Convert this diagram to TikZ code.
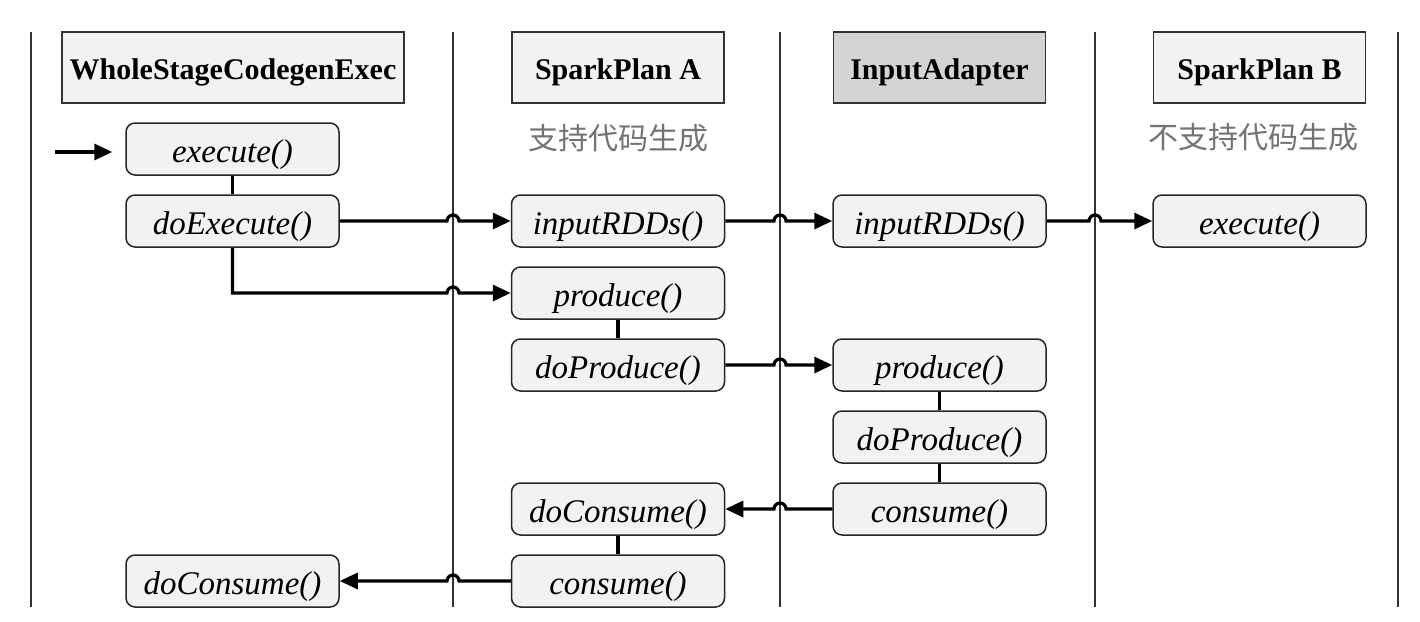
\documentclass[tikz,border=0pt]{standalone}
\usepackage{fontspec}
\setmainfont{Liberation Serif}
\newfontfamily\cjk{Noto Sans CJK SC}
\usetikzlibrary{arrows.meta,calc}
\begin{document}
\begin{tikzpicture}[x=1pt,y=-1pt,
 lane/.style={line width=2.8pt, draw=black!80},
 hdr/.style={draw=black!80, line width=1.5pt, fill=black!5, minimum height=71pt, minimum width=212pt, inner sep=0pt, text height=27pt, text depth=4pt, font=\fontsize{30}{34}\selectfont\bfseries},
 meth/.style={draw=black!85, line width=1.5pt, fill=black!5, rounded corners=9pt, minimum width=213pt, minimum height=52pt, inner sep=0pt, text height=30pt, text depth=4pt, font=\fontsize{33}{36}\selectfont\itshape},
 flow/.style={line width=3.2pt, -{Triangle[length=18pt,width=16pt]}},
 link/.style={line width=3.2pt},
 note/.style={text=black!55, font=\cjk\fontsize{30}{34}\selectfont}]
\useasboundingbox (0,0) rectangle (1420,621);
% lanes
\coordinate (L1) at (31,0);
\coordinate (L2) at (453,0);
\coordinate (L3) at (780,0);
\coordinate (L4) at (1095,0);
\coordinate (L5) at (1398,0);
\foreach \x in {31,453,780,1095,1398} \draw[lane] (\x,32) -- (\x,607);
% headers
\node[hdr, minimum width=342pt] (hW) at (233,67.5) {WholeStageCodegenExec};
\node[hdr] (hA) at (618,67.5) {SparkPlan A};
\node[hdr, fill=black!17] (hI) at (939.5,67.5) {InputAdapter};
\node[hdr] (hB) at (1259.5,67.5) {SparkPlan B};
\node[note] (cnA) at (618,138) {支持代码生成};
\node[note] (cnB) at (1253,137) {不支持代码生成};
% column 1
\node[meth] (wExec) at (232.5,149) {execute()};
\node[meth] (wDoExec) at (232.5,221) {doExecute()};
\node[meth] (wDoCons) at (232.5,581) {doConsume()};
% column 2
\node[meth] (aIn) at (618,221) {inputRDDs()};
\node[meth] (aProd) at (618,293) {produce()};
\node[meth] (aDoProd) at (618,365) {doProduce()};
\node[meth] (aDoCons) at (618,509) {doConsume()};
\node[meth] (aCons) at (618,581) {consume()};
% column 3
\node[meth] (iIn) at (939.5,221) {inputRDDs()};
\node[meth] (iProd) at (939.5,365) {produce()};
\node[meth] (iDoProd) at (939.5,437) {doProduce()};
\node[meth] (iCons) at (939.5,509) {consume()};
% column 4
\node[meth] (bExec) at (1259.5,221) {execute()};
% entry
\coordinate (entry) at (55,152);
\draw[flow] (entry) -- ([xshift=-13pt]wExec.west |- entry);
% vertical links
\draw[link] (wExec) -- (wDoExec);
\draw[link] (aProd) -- (aDoProd);
\draw[link] (aDoCons) -- (aCons);
\draw[link] (iProd) -- (iDoProd);
\draw[link] (iDoProd) -- (iCons);
% flows with jumps
\draw[flow] (wDoExec.east) -- ([xshift=-6pt]wDoExec.east -| L2) arc[start angle=180,end angle=0,radius=6pt] -- (aIn.west);
\draw[flow] (wDoExec.south) -- (wDoExec.south |- aProd.west) -- ([xshift=-6pt]aProd.west -| L2) arc[start angle=180,end angle=0,radius=6pt] -- (aProd.west);
\draw[flow] (aIn.east) -- ([xshift=-6pt]aIn.east -| L3) arc[start angle=180,end angle=0,radius=6pt] -- (iIn.west);
\draw[flow] (iIn.east) -- ([xshift=-6pt]iIn.east -| L4) arc[start angle=180,end angle=0,radius=6pt] -- (bExec.west);
\draw[flow] (aDoProd.east) -- ([xshift=-6pt]aDoProd.east -| L3) arc[start angle=180,end angle=0,radius=6pt] -- (iProd.west);
\draw[flow] (iCons.west) -- ([xshift=6pt]iCons.west -| L3) arc[start angle=0,end angle=180,radius=6pt] -- (aDoCons.east);
\draw[flow] (aCons.west) -- ([xshift=6pt]aCons.west -| L2) arc[start angle=0,end angle=180,radius=6pt] -- (wDoCons.east);
\end{tikzpicture}
\end{document}
